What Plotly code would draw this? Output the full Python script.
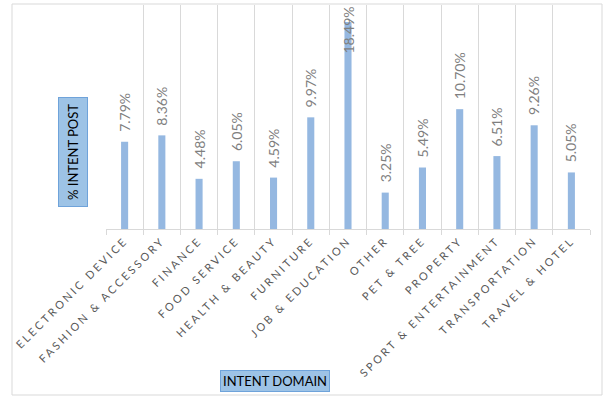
import plotly.graph_objects as go

categories = ["ELECTRONIC DEVICE", "FASHION & ACCESSORY", "FINANCE", "FOOD SERVICE",
              "HEALTH & BEAUTY", "FURNITURE", "JOB & EDUCATION", "OTHER", "PET & TREE",
              "PROPERTY", "SPORT & ENTERTAINMENT", "TRANSPORTATION", "TRAVEL & HOTEL"]
values = [7.79, 8.36, 4.48, 6.05, 4.59, 9.97, 18.49, 3.25, 5.49, 10.70, 6.51, 9.26, 5.05]
labels = ["7.79%", "8.36%", "4.48%", "6.05%", "4.59%", "9.97%", "18.49%", "3.25%",
          "5.49%", "10.70%", "6.51%", "9.26%", "5.05%"]
y_max = 20

W, H = 605, 397
L, R, T, B = 106, 15, 5, 168
pw, ph = W - L - R, H - T - B
px_per_unit = ph / y_max

def px_to_paper_x(px):
    return (px - L) / pw

def px_to_paper_y(py):
    return (H - B - py) / ph

fig = go.Figure()
fig.add_trace(go.Bar(
    x=categories, y=values, width=0.19,
    marker=dict(color="#95B8E1", line=dict(width=0)),
    hoverinfo="x+y",
))

label_font = dict(family="Lato", size=14, color="#7F7F7F")
annotations = []
for c, v, lab in zip(categories, values, labels):
    est_len = len(lab) * 8.3 + 4
    if v * px_per_unit + 8 + est_len > ph:
        annotations.append(dict(x=c, y=y_max, xref="x", yref="y", text=lab,
                                textangle=-90, showarrow=False, xanchor="center", yanchor="top",
                                font=label_font))
    else:
        annotations.append(dict(x=c, y=v, xref="x", yref="y", text=lab,
                                textangle=-90, showarrow=False, xanchor="center", yanchor="bottom",
                                yshift=8, font=label_font))

annotations.append(dict(x=px_to_paper_x(73), y=px_to_paper_y(152), xref="paper", yref="paper",
                        text="% INTENT POST", textangle=-90, showarrow=False,
                        xanchor="center", yanchor="middle",
                        font=dict(family="Lato", size=13, color="#000000"),
                        bgcolor="#9DC3E6", bordercolor="#6FA3DA", borderwidth=1, borderpad=6))
annotations.append(dict(x=px_to_paper_x(275), y=px_to_paper_y(381), xref="paper", yref="paper",
                        text="INTENT DOMAIN", showarrow=False,
                        xanchor="center", yanchor="middle",
                        font=dict(family="Lato", size=13, color="#000000"),
                        bgcolor="#9DC3E6", bordercolor="#6FA3DA", borderwidth=1, borderpad=2))

shapes = [dict(type="rect", xref="paper", yref="paper",
               x0=px_to_paper_x(12), x1=px_to_paper_x(602),
               y0=px_to_paper_y(395), y1=px_to_paper_y(4),
               line=dict(color="#D9D9D9", width=1), fillcolor="rgba(0,0,0,0)", layer="below")]

fig.update_layout(
    width=W, height=H,
    margin=dict(l=L, r=R, t=T, b=B, pad=0),
    paper_bgcolor="white", plot_bgcolor="white",
    showlegend=False,
    annotations=annotations,
    shapes=shapes,
    xaxis=dict(
        type="category", tickson="boundaries", showgrid=True, gridcolor="#D9D9D9", gridwidth=1,
        showline=True, linecolor="#D9D9D9", ticks="outside", ticklen=5, tickcolor="#D9D9D9",
        tickangle=-45, tickfont=dict(family="Lato", size=11, color="#595959"),
        zeroline=False, automargin=False,
    ),
    yaxis=dict(range=[0, y_max], visible=False, showgrid=False, zeroline=False),
)

post = """
(function(){
  function sp(){
    document.querySelectorAll('g.xtick text').forEach(function(t){ t.style.letterSpacing = '2.6px'; });
  }
  sp();
  var gd = document.getElementById('{plot_id}');
  if (gd && gd.on) { gd.on('plotly_afterplot', sp); }
})();
"""

fig.write_html("out.html", post_script=post)
